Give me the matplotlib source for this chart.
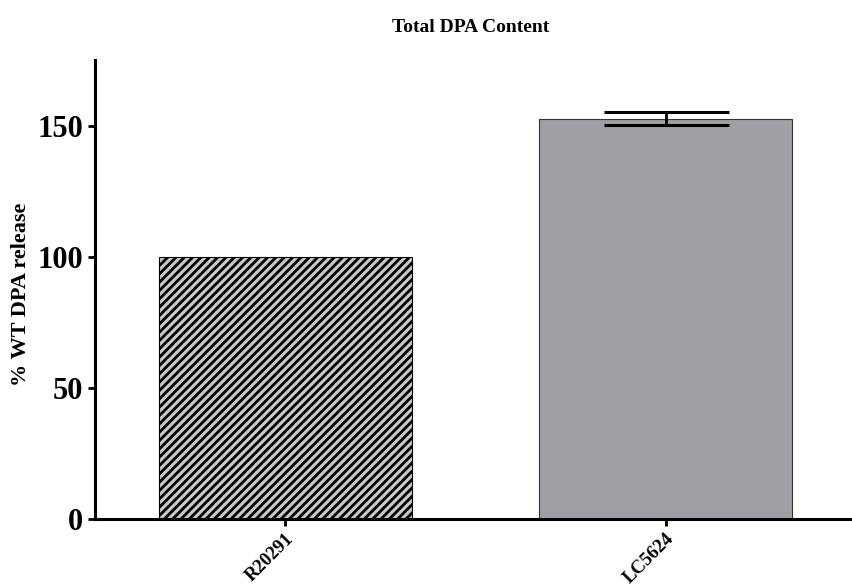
import matplotlib.pyplot as plt
import numpy as np

strains = ["R20291", "LC5624"]
dpa_pct = [100.0, 152.7]
dpa_err = [0.0, 2.6]

plt.rcParams['font.family'] = ['Liberation Serif', 'DejaVu Serif']
plt.rcParams['font.weight'] = 'bold'
plt.rcParams['hatch.linewidth'] = 2.0

fig = plt.figure(figsize=(8.52, 5.88), dpi=100)
ax = fig.add_axes([0.1115, 0.1173, 0.8885, 0.7806])

x = np.arange(len(strains))
bars = ax.bar(x, dpa_pct, width=0.665, color=['#c8c8c8', '#a09fa4'],
              edgecolor='#333333', linewidth=0.8)
bars[0].set_hatch('////')
bars[0].set_edgecolor('black')

# error bar only for the second strain
ax.errorbar(x[1], dpa_pct[1], yerr=dpa_err[1], fmt='none', ecolor='black',
            elinewidth=2, capsize=45, capthick=2.2)

ax.set_xlim(-0.5, 1.49)
ax.set_ylim(0, 175)
ax.set_yticks([0, 50, 100, 150])
ax.set_xticks(x)
ax.set_xticklabels(strains, rotation=45, ha='right', va='top',
                   rotation_mode='anchor', fontsize=13.5, fontweight='bold')
ax.tick_params(axis='y', labelsize=22, width=2, length=5)
ax.tick_params(axis='x', width=2, length=5, pad=3)
for lbl in ax.get_yticklabels():
    lbl.set_fontweight('bold')

ax.spines['top'].set_visible(False)
ax.spines['right'].set_visible(False)
ax.spines['left'].set_linewidth(2.2)
ax.spines['bottom'].set_linewidth(2.2)

ax.set_ylabel("% WT DPA release", fontsize=16, fontweight='bold')
ax.yaxis.set_label_coords(-0.084, 0.49)
fig.text(0.552, 0.954, "Total DPA Content", ha='center', va='center',
         fontsize=14, fontweight='bold')

fig.savefig("out.png", dpi=100)
